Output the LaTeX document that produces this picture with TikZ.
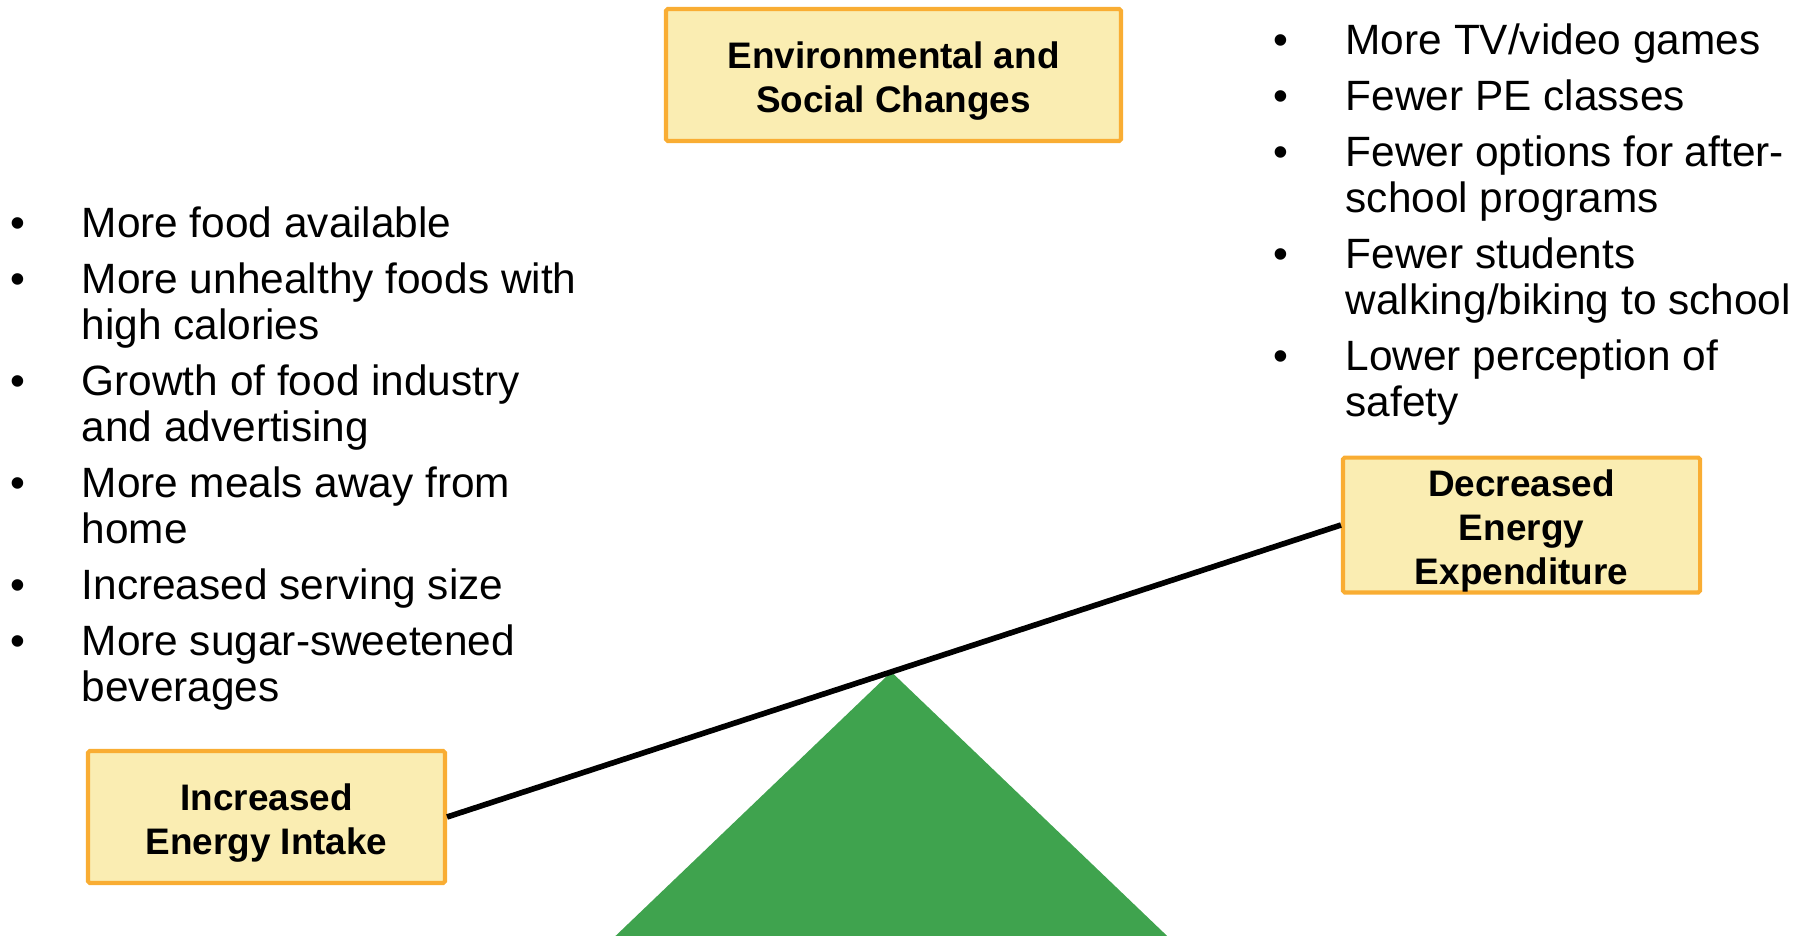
\documentclass[tikz,border=0pt]{standalone}
\usepackage{fontspec}
\setmainfont{Liberation Sans}
\usepackage{tikz}
\usetikzlibrary{calc}
\definecolor{boxfill}{HTML}{FAEDB2}
\definecolor{boxline}{HTML}{F9AD33}
\definecolor{pivotgreen}{HTML}{3FA34E}
\tikzset{
  factor/.style={draw=boxline, fill=boxfill, line width=1.15pt, rounded corners=0.5pt,
    align=center, inner sep=0pt, minimum height=1.32cm,
    font=\bfseries\fontsize{10.5}{12.6}\selectfont},
  bullets/.style={anchor=base west, inner sep=0pt, font=\fontsize{12.06}{13.09}\selectfont}
}
\newcommand{\gap}{\\[0.1cm]}
\newcommand{\lift}{\rule{0pt}{1.05em}}

\begin{document}
\begin{tikzpicture}
            \useasboundingbox (0,0) rectangle (18.04,-9.35);
            % the three boxes
            \node[factor, minimum width=4.55cm] (change) at (8.935,-0.75) {\lift Environmental and\\Social Changes};
            \node[factor, minimum width=3.57cm] (expend) at (15.215,-5.25) {\lift Decreased\\Energy\\Expenditure};
            \node[factor, minimum width=3.57cm] (intake) at (2.665,-8.17) {\lift Increased\\Energy Intake};
            % balance
            \coordinate (pivot) at ($(intake.east)!0.497!(expend.west)$);
            \fill[pivotgreen] (pivot) -- ++(-2.82,-2.7) -- ++(5.64,0) -- cycle;
            \draw[line width=1.6pt] (intake.east) -- (expend.west);
            % intake list
            \node[bullets] (foodlist) at (0.10,-2.37) {\begin{tabular}[t]{@{}p{0.71cm}@{}l@{}}
                \textbullet & More food available\gap
                \textbullet & More unhealthy foods with\\ & high calories\gap
                \textbullet & Growth of food industry\\ & and advertising\gap
                \textbullet & More meals away from\\ & home\gap
                \textbullet & Increased serving size\gap
                \textbullet & More sugar-sweetened\\ & beverages
            \end{tabular}};
            % expenditure list
            \node[bullets] (activitylist) at (12.73,-0.54) {\begin{tabular}[t]{@{}p{0.72cm}@{}l@{}}
                \textbullet & More TV/video games\gap
                \textbullet & Fewer PE classes\gap
                \textbullet & Fewer options for after-\\ & school programs\gap
                \textbullet & Fewer students\\ & walking/biking to school\gap
                \textbullet & Lower perception of\\ & safety
            \end{tabular}};
        \end{tikzpicture}
\end{document}
